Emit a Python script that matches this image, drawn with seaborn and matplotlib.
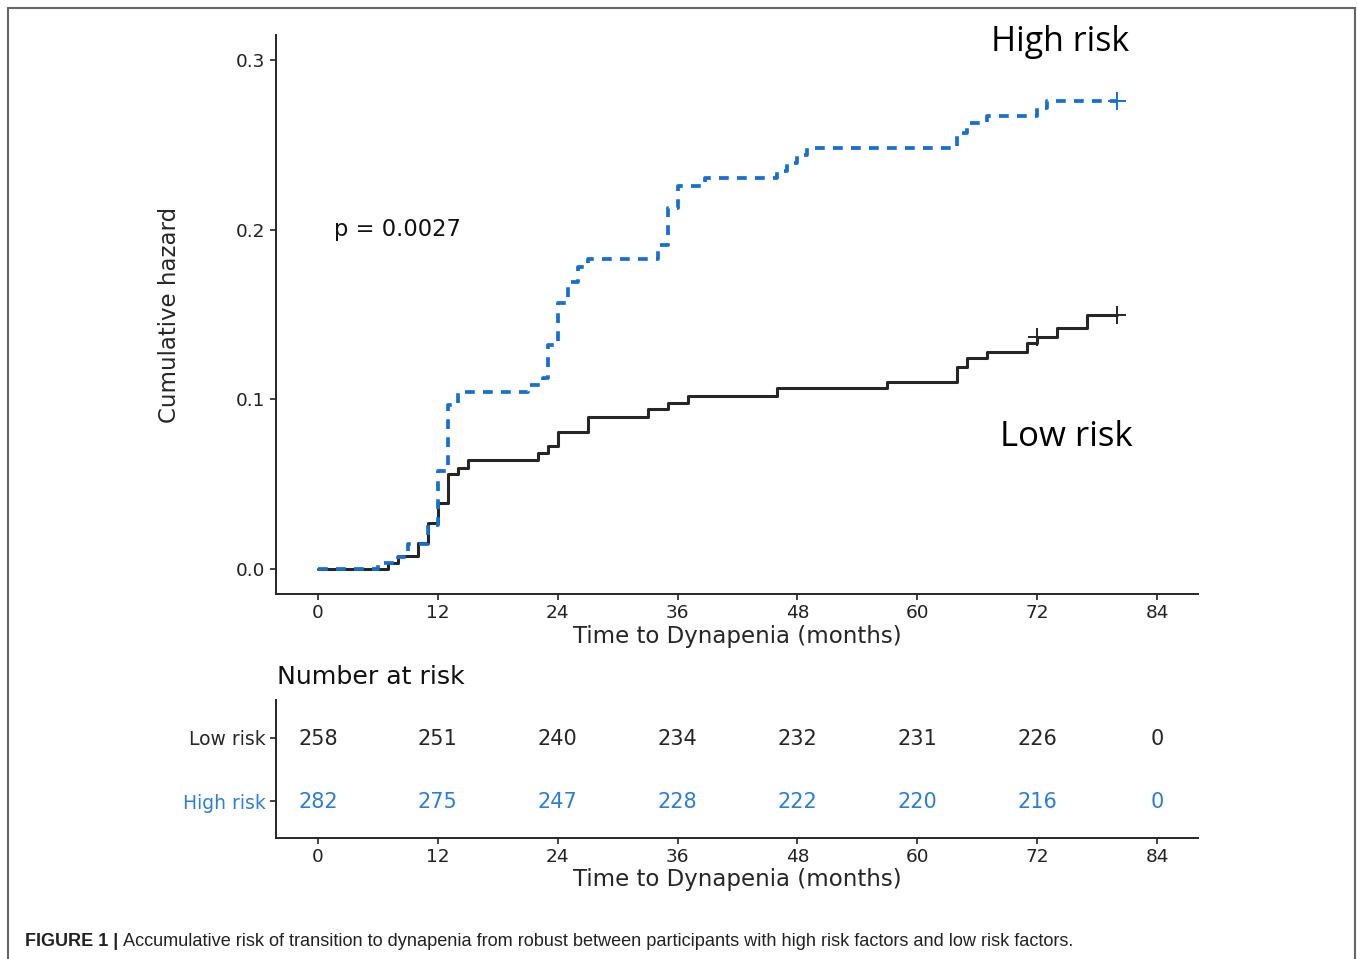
import numpy as np
import pandas as pd
import matplotlib
matplotlib.use("Agg")
import matplotlib.pyplot as plt
from matplotlib.lines import Line2D
import seaborn as sns

# ---------------- data ----------------
low_t = [0, 7, 8, 10, 11, 12, 13, 14, 15, 22, 23, 24, 27, 33, 35, 37, 46, 57, 64, 65, 67, 71, 72, 74, 77, 80]
low_h = [0.0, 0.0038, 0.0077, 0.0155, 0.0273, 0.0390, 0.0560, 0.0596, 0.0640, 0.0686, 0.0727, 0.0810,
         0.0895, 0.0941, 0.0980, 0.1021, 0.1065, 0.1104, 0.1193, 0.1242, 0.1281, 0.1330, 0.1369, 0.1418,
         0.1500, 0.1500]
high_t = [0, 6, 8, 9, 11, 12, 13, 14, 21, 22.5, 23, 24, 25, 26, 27, 34, 35, 36, 38.7, 46, 47, 48, 49,
          64, 65, 67, 72, 73, 80]
high_h = [0.0, 0.0036, 0.0072, 0.0145, 0.0262, 0.0580, 0.0967, 0.1041, 0.1084, 0.1124, 0.1320, 0.1570,
          0.1694, 0.1780, 0.1825, 0.1910, 0.2126, 0.2257, 0.2303, 0.2348, 0.2391, 0.2440, 0.2483,
          0.2568, 0.2627, 0.2670, 0.2715, 0.2760, 0.2760]
low_cens_t = [72, 80]
low_cens_h = [0.1369, 0.1500]
high_cens_t = [80]
high_cens_h = [0.2760]

risk_times = [0, 12, 24, 36, 48, 60, 72, 84]
risk_low = [258, 251, 240, 234, 232, 231, 226, 0]
risk_high = [282, 275, 247, 228, 222, 220, 216, 0]
groups = ["Low risk", "High risk"]
xticks = [0, 12, 24, 36, 48, 60, 72, 84]
yticks = [0.0, 0.1, 0.2, 0.3]

BLUE = "#1570d6"
BLUE_TXT = "#2b7fd8"
DARK = "#262626"

# ---------------- style ----------------
sns.set_style("ticks")
plt.rcParams["font.family"] = ["DejaVu Sans"]
plt.rcParams["axes.linewidth"] = 1.4
plt.rcParams["xtick.major.width"] = 1.2
plt.rcParams["ytick.major.width"] = 1.2
plt.rcParams["xtick.major.size"] = 4
plt.rcParams["ytick.major.size"] = 4

W, H = 1357, 959
fig = plt.figure(figsize=(W / 100, H / 100), dpi=100)

def fx(px):
    return px / W

def fy(py):
    return 1 - py / H

# main axes
ax = fig.add_axes([fx(276), fy(594), fx(1198) - fx(276), fy(35) - fy(594)])
low_df = pd.DataFrame({"t": low_t, "h": low_h})
high_df = pd.DataFrame({"t": high_t, "h": high_h})
sns.lineplot(data=low_df, x="t", y="h", ax=ax, color=DARK, linewidth=2.2,
             drawstyle="steps-post", estimator=None, sort=False)
sns.lineplot(data=high_df, x="t", y="h", ax=ax, color=BLUE, linewidth=2.7,
             drawstyle="steps-post", estimator=None, sort=False, dashes=False)
ax.lines[-1].set_dashes((2.6, 2.2))
sns.scatterplot(x=low_cens_t, y=low_cens_h, ax=ax, marker="+", s=160, color=DARK, linewidth=1.4)
sns.scatterplot(x=high_cens_t, y=high_cens_h, ax=ax, marker="+", s=160, color=BLUE, linewidth=1.4)

ax.set_xlim(-4.2, 88.1)
ax.set_ylim(-0.0147, 0.3147)
ax.set_xticks(xticks)
ax.set_yticks(yticks)
ax.set_yticklabels([f"{v:.1f}" for v in yticks])
ax.tick_params(labelsize=13.3, colors="#222222")
ax.set_xlabel("Time to Dynapenia (months)", fontsize=16.5, labelpad=2)
ax.set_ylabel("Cumulative hazard", fontsize=16.5, labelpad=40)
sns.despine(ax=ax)

ax.text(1.6, 0.2, "p = 0.0027", fontsize=16.3, va="center", ha="left", color="#111111")
ax.text(74.3, 0.3106, "High risk", fontsize=24.5, va="center", ha="center",
        family=["Open Sans", "DejaVu Sans"], color="black")
ax.text(74.9, 0.0778, "Low risk", fontsize=25, va="center", ha="center",
        family=["Open Sans", "DejaVu Sans"], color="black")

# risk table axes
ax2 = fig.add_axes([fx(276), fy(838), fx(1198) - fx(276), fy(700) - fy(838)])
ax2.set_xlim(-4.2, 88.1)
ax2.set_ylim(-0.587, 1.603)
rows = {"Low risk": (1, risk_low, DARK), "High risk": (0, risk_high, BLUE_TXT)}
for g in groups:
    yv, vals, col = rows[g]
    for t, v in zip(risk_times, vals):
        ax2.text(t, yv - 0.02, str(v), ha="center", va="center", fontsize=15, color=col)
ax2.set_yticks([1, 0])
ax2.set_yticklabels(groups)
ax2.set_xticks(xticks)
ax2.tick_params(labelsize=13.3, colors="#222222")
ax2.tick_params(axis="y", labelsize=13.5)
for lab, g in zip(ax2.get_yticklabels(), groups):
    lab.set_color(rows[g][2])
ax2.set_xlabel("Time to Dynapenia (months)", fontsize=16.5, labelpad=1)
sns.despine(ax=ax2)

fig.text(fx(277), fy(677), "Number at risk", fontsize=18.2, ha="left", va="center", color="#111111")

# caption
cap_bold = fig.text(fx(25), fy(941), "FIGURE 1 |", fontsize=13, fontweight="bold", ha="left",
                    va="center", family=["Liberation Sans", "DejaVu Sans"], color="#222222")
fig.canvas.draw()
bb = cap_bold.get_window_extent()
fig.text((bb.x1 + 5) / W, fy(941),
         "Accumulative risk of transition to dynapenia from robust between participants with high risk factors and low risk factors.",
         fontsize=13.1, ha="left", va="center", family=["Liberation Sans", "DejaVu Sans"], color="#222222")

# frame
fc = "#666666"
fig.add_artist(Line2D([fx(8), fx(1355)], [fy(8), fy(8)], color=fc, linewidth=1.5))
fig.add_artist(Line2D([fx(8), fx(8)], [fy(8), 0], color=fc, linewidth=1.5))
fig.add_artist(Line2D([fx(1355), fx(1355)], [fy(8), 0], color=fc, linewidth=1.5))

fig.savefig("out.png", dpi=100)
